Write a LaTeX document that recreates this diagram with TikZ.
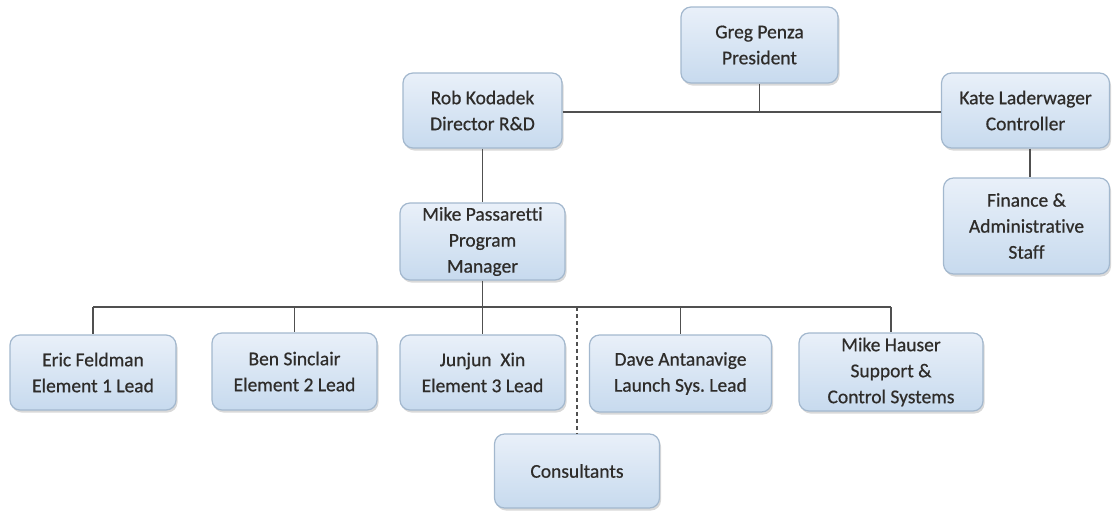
\documentclass[tikz,border=0pt]{standalone}
\usepackage{fontspec}
\setmainfont{Carlito}[Ligatures=NoCommon]
\newfontfamily\orgfont{Carlito}[Ligatures=NoCommon,FakeBold=0.6]
\usetikzlibrary{shadows,calc}
\definecolor{boxtop}{HTML}{E9F0F9}
\definecolor{boxbot}{HTML}{C7DAEE}
\definecolor{boxedge}{HTML}{A3B8CE}
\definecolor{linec}{HTML}{505050}
\definecolor{txt}{HTML}{2E2C2A}
\begin{document}
\begin{tikzpicture}[x=1pt,y=-1pt,
  orgbox/.style={draw=boxedge, line width=1.2pt, rounded corners=10pt,
    top color=boxtop, bottom color=boxbot, align=center, inner sep=2pt,
    font=\orgfont\fontsize{19.5}{26}\selectfont, text=txt,
    drop shadow={shadow xshift=1.5pt, shadow yshift=-2.5pt, opacity=0.25, fill=black!60}},
  conn/.style={draw=linec, line width=1.4pt},
  dconn/.style={draw=linec, line width=1.4pt, dash pattern=on 4pt off 3pt}]
\useasboundingbox (0,0) rectangle (1112,512);
\node[orgbox, minimum width=157pt, minimum height=76pt] (greg) at (759.5,45) {Greg Penza\\President};
\node[orgbox, minimum width=159pt, minimum height=75pt] (rob) at (482.5,110.5) {Rob Kodadek\\Director R\&D};
\node[orgbox, minimum width=168pt, minimum height=75pt] (kate) at (1025.5,110.5) {Kate Laderwager\\Controller};
\node[orgbox, minimum width=166pt, minimum height=96pt] (fin) at (1026.5,226) {Finance \&\\Administrative\\Staff};
\node[orgbox, minimum width=165pt, minimum height=77pt] (mikep) at (482.5,241.5) {Mike Passaretti\\Program\\Manager};
\node[orgbox, minimum width=166pt, minimum height=75pt] (eric) at (93,372.5) {Eric Feldman\\Element 1 Lead};
\node[orgbox, minimum width=165pt, minimum height=77pt] (ben) at (294.5,371.5) {Ben Sinclair\\Element 2 Lead};
\node[orgbox, minimum width=165pt, minimum height=75pt] (jun) at (482.5,372.5) {Junjun\ \ Xin\\Element 3 Lead};
\node[orgbox, minimum width=182pt, minimum height=77pt] (dave) at (680.5,373.5) {Dave Antanavige\\Launch Sys.\ Lead};
\node[orgbox, minimum width=184pt, minimum height=78pt] (hau) at (891,372) {Mike Hauser\\Support \&\\Control Systems};
\node[orgbox, minimum width=165pt, minimum height=74pt] (cons) at (577,471) {Consultants};
\coordinate (bus) at (0,307);
\coordinate (top) at (0,112);
% top level
\draw[conn] (rob.east |- top) -- (kate.west |- top);
\draw[conn] (greg.south) -- (greg.south |- top);
\draw[conn] (rob.south) -- (mikep.north);
\draw[conn] ($(kate.south)+(4.5,0)$) -- ($(fin.north)+(3.5,0)$);
% bus
\draw[conn] (mikep.south) -- (mikep.south |- bus);
\draw[conn] (eric.north |- bus) -- (hau.north |- bus);
\draw[conn] (eric.north |- bus) -- (eric.north);
\draw[conn] (ben.north |- bus) -- (ben.north);
\draw[conn] (jun.north |- bus) -- (jun.north);
\draw[conn] (dave.north |- bus) -- (dave.north);
\draw[conn] (hau.north |- bus) -- (hau.north);
\draw[dconn] (cons.north |- bus) -- (cons.north);
\end{tikzpicture}
\end{document}
